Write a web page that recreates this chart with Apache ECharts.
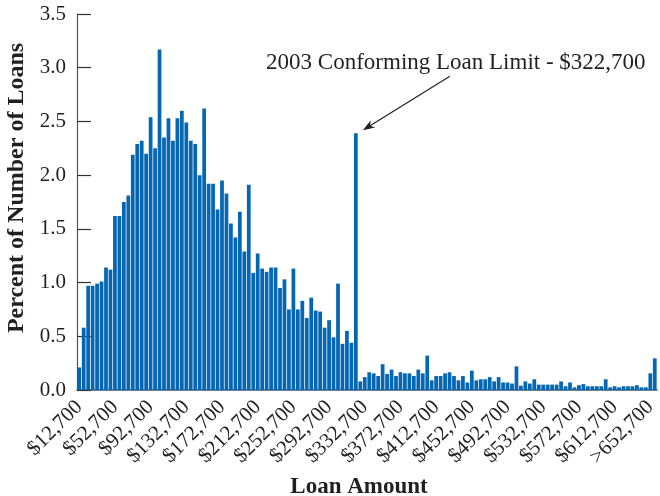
<!DOCTYPE html>
<html><head><meta charset="utf-8">
<script src="https://cdn.jsdelivr.net/npm/echarts@6/dist/echarts.min.js"></script>
<style>html,body{margin:0;padding:0;background:#fff}#c{width:660px;height:496px}</style>
</head><body><div id="c"></div>
<script>
// Loan-size bins: $12,700, $17,700, ... $652,700, then >$652,700
const categories = [];
for (let i = 0; i < 129; i++) categories.push('$' + (12700 + 5000 * i).toLocaleString('en-US'));
categories.push('>$652,700');

const percentOfLoans = [
  0.21, 0.58, 0.97, 0.97, 0.99, 1.01, 1.14, 1.12, 1.62, 1.62,
  1.75, 1.81, 2.19, 2.29, 2.32, 2.20, 2.54, 2.25, 3.17, 2.35,
  2.53, 2.32, 2.53, 2.60, 2.49, 2.32, 2.29, 2.00, 2.62, 1.92,
  1.92, 1.68, 1.95, 1.83, 1.55, 1.42, 1.66, 1.29, 1.91, 1.09,
  1.27, 1.13, 1.10, 1.14, 1.14, 0.95, 1.03, 0.75, 1.13, 0.75,
  0.83, 0.67, 0.86, 0.74, 0.73, 0.58, 0.65, 0.49, 0.99, 0.43,
  0.55, 0.44, 2.39, 0.08, 0.12, 0.165, 0.155, 0.13, 0.24, 0.15,
  0.19, 0.13, 0.165, 0.155, 0.155, 0.13, 0.19, 0.155, 0.32, 0.09,
  0.13, 0.13, 0.155, 0.165, 0.13, 0.09, 0.13, 0.07, 0.18, 0.09,
  0.10, 0.10, 0.12, 0.08, 0.12, 0.07, 0.07, 0.06, 0.22, 0.04,
  0.08, 0.06, 0.10, 0.05, 0.05, 0.05, 0.05, 0.05, 0.08, 0.035,
  0.07, 0.025, 0.045, 0.055, 0.035, 0.035, 0.035, 0.035, 0.10, 0.025,
  0.035, 0.025, 0.035, 0.035, 0.035, 0.045, 0.025, 0.025, 0.155, 0.295
];

const tickLabels = ['$12,700','$52,700','$92,700','$132,700','$172,700','$212,700','$252,700',
  '$292,700','$332,700','$372,700','$412,700','$452,700','$492,700','$532,700','$572,700',
  '$612,700','>652,700'];

const yAxisTitle = 'Percent of Number of Loans';
const xAxisTitle = 'Loan Amount';
const annotationText = '2003 Conforming Loan Limit - $322,700';
const annotationIndex = 62; // the $322,700 bin

const serif = '"Liberation Serif", "DejaVu Serif", serif';
const ink = '#231f20';

const chart = echarts.init(document.getElementById('c'), null, {renderer: 'canvas'});
chart.setOption({
  animation: false,
  backgroundColor: '#ffffff',
  grid: {left: 77, right: 3, top: 14, bottom: 106, containLabel: false, outerBoundsMode: 'none'},
  xAxis: {
    type: 'category',
    data: categories,
    axisLine: {show: true, lineStyle: {color: '#3d5670', width: 1.5}},
    axisTick: {show: false},
    axisLabel: {
      interval: 7, rotate: 45, margin: 14,
      fontFamily: serif, fontSize: 21, color: ink,
      formatter: (v, i) => (i % 8 === 0 && tickLabels[i / 8]) ? tickLabels[i / 8] : ''
    },
    name: xAxisTitle, nameLocation: 'middle', nameGap: 81,
    nameTextStyle: {fontFamily: serif, fontWeight: 'bold', fontSize: 23, color: ink,
      padding: [0, 16, 0, 0]}
  },
  yAxis: {
    type: 'value', min: 0, max: 3.5, interval: 0.5,
    axisLine: {show: true, lineStyle: {color: '#555555', width: 1.2}},
    axisTick: {show: true, inside: true, length: 14, lineStyle: {color: '#333333', width: 1.2}},
    splitLine: {show: false},
    axisLabel: {margin: 11, fontFamily: serif, fontSize: 21, color: ink,
      formatter: v => v.toFixed(1)},
    name: yAxisTitle, nameLocation: 'middle', nameGap: 47,
    nameTextStyle: {fontFamily: serif, fontWeight: 'bold', fontSize: 24, color: ink,
      padding: [0, 0, 0, 28]}
  },
  series: [{
    type: 'bar',
    data: percentOfLoans,
    barCategoryGap: '16%',
    itemStyle: {color: '#0567b3'}
  }]
});

// annotation anchored to the $322,700 bar
const p = chart.convertToPixel({seriesIndex: 0}, [annotationIndex, percentOfLoans[annotationIndex]]);
const tip = [p[0] + 7, p[1] - 3];
const tail = [p[0] + 94, p[1] - 57];
const dx = tip[0] - tail[0], dy = tip[1] - tail[1];
const len = Math.hypot(dx, dy);
const ux = dx / len, uy = dy / len, nx = -uy, ny = ux;
const L = 12, W = 4.2;
chart.setOption({
  graphic: [
    {type: 'line', shape: {x1: tail[0], y1: tail[1], x2: tip[0] - ux * 8, y2: tip[1] - uy * 8},
     style: {stroke: ink, lineWidth: 1.2}},
    {type: 'polygon', shape: {points: [
      tip,
      [tip[0] - ux * L + nx * W, tip[1] - uy * L + ny * W],
      [tip[0] - ux * L * 0.7, tip[1] - uy * L * 0.7],
      [tip[0] - ux * L - nx * W, tip[1] - uy * L - ny * W]
    ]}, style: {fill: ink}},
    {type: 'text', x: p[0] + 100, y: p[1] - 70,
     style: {text: annotationText, fontFamily: serif, fontSize: 23, fill: ink,
       align: 'center', verticalAlign: 'middle'}}
  ]
});
</script>
</body></html>
